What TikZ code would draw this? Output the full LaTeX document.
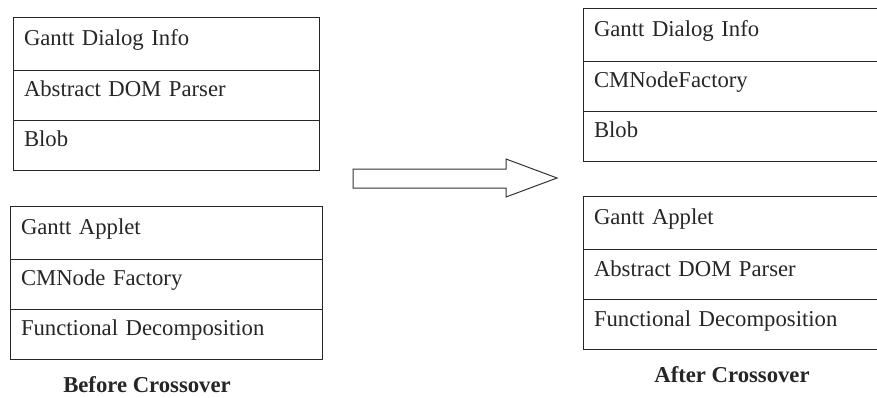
\documentclass[tikz,border=0pt]{standalone}
\usepackage{fontspec}
\setmainfont{Liberation Serif}
\begin{document}
\begin{tikzpicture}[x=1pt,y=-1pt,
  cell/.style={draw=black!85, line width=1pt, outer sep=0pt, inner xsep=11pt, inner ysep=0pt,
    anchor=north west, align=left, text height=15pt, text depth=12pt,
    text=black!85, font=\fontsize{22.7}{27}\selectfont},
  firstcell/.style={cell, minimum height=53pt},
  othercell/.style={cell, minimum height=50pt},
  caption/.style={anchor=base, text=black!85, font=\fontsize{22.7}{27}\selectfont\bfseries},
  bigarrow/.style={draw=black!80, line width=1pt, fill=white, line join=miter}
]
\useasboundingbox (0,0) rectangle (877,397);
\clip (0,0) rectangle (877,397);
% Before crossover, parent 1
\node[firstcell, text width=284.3pt] (a1) at (13,17.3) {Gantt Dialog Info};
\node[othercell, text width=284.3pt] (a2) at (a1.south west) {Abstract DOM Parser};
\node[othercell, text width=284.3pt] (a3) at (a2.south west) {Blob};
% Before crossover, parent 2
\node[firstcell, text width=290.3pt] (b1) at (10,206) {Gantt Applet};
\node[othercell, text width=290.3pt] (b2) at (b1.south west) {CMNode Factory};
\node[othercell, text width=290.3pt] (b3) at (b2.south west) {Functional Decomposition};
\node[caption] (cb) at (147,392) {Before Crossover};
% After crossover, child 1
\node[firstcell, text width=300pt] (c1) at (583,8.3) {Gantt Dialog Info};
\node[othercell, text width=300pt] (c2) at (c1.south west) {CMNodeFactory};
\node[othercell, text width=300pt] (c3) at (c2.south west) {Blob};
% After crossover, child 2
\node[firstcell, text width=300pt] (d1) at (583,196.7) {Gantt Applet};
\node[othercell, text width=300pt] (d2) at (d1.south west) {Abstract DOM Parser};
\node[othercell, text width=300pt] (d3) at (d2.south west) {Functional Decomposition};
\node[caption] (ca) at (732,382) {After Crossover};
% block arrow
\draw[bigarrow] (353,169) -- (506,169) -- (506,159) -- (557,178) -- (506,197)
  -- (506,188) -- (353,188) -- cycle;
\end{tikzpicture}
\end{document}
